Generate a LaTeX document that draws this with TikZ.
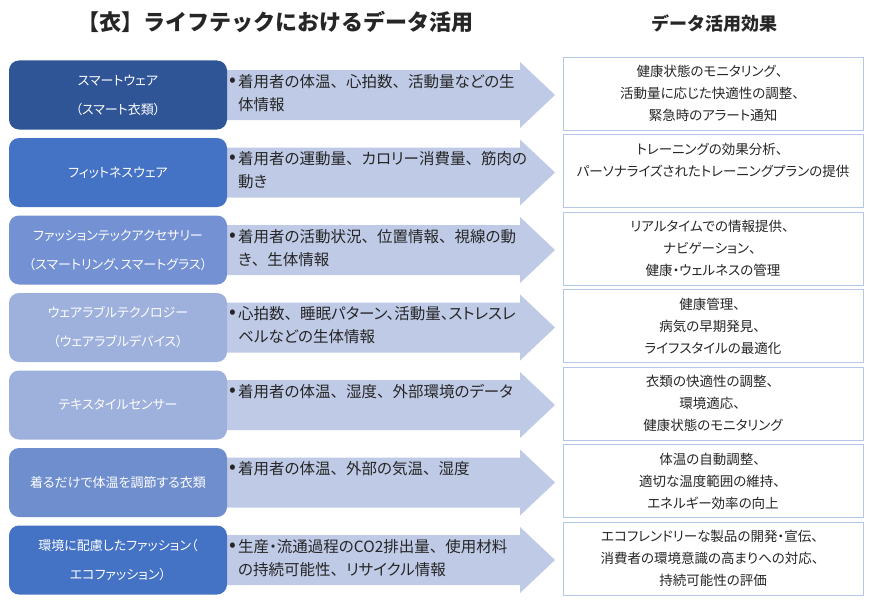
\documentclass[tikz,border=0pt]{standalone}
\usepackage{fontspec}
\newfontfamily\jp{Noto Sans CJK JP}
\newfontfamily\jpp[RawFeature=+palt]{Noto Sans CJK JP}
\newcommand\tn{{\jp 、}}
\definecolor{cA}{HTML}{2F5597}
\definecolor{cB}{HTML}{4472C4}
\definecolor{cC}{HTML}{7391D3}
\definecolor{cD}{HTML}{9EB0DC}
\definecolor{cE}{HTML}{6F8ECE}
\definecolor{arrowcol}{HTML}{BFCAE6}
\definecolor{rline}{HTML}{B4C7E7}
\definecolor{txt}{HTML}{262626}
\tikzset{
  lbox/.style={rounded corners=10pt, minimum width=218pt, minimum height=69pt, inner sep=0pt,
    text=white, align=center, font=\jpp\fontsize{13}{29}\selectfont},
  rbox/.style={draw=rline, line width=0.9pt, fill=white, minimum width=300pt, minimum height=73pt,
    inner sep=0pt, align=center, text=txt, font=\jpp\fontsize{13.5}{22}\selectfont},
  atext/.style={anchor=north west, inner sep=0pt, align=left, text=txt, font=\jpp\fontsize{15.5}{23}\selectfont},
  bul/.style={inner sep=0pt, text=txt, font=\jp\fontsize{20}{22}\selectfont},
  ttl/.style={inner sep=0pt, text=txt, font=\jp\bfseries}
}
\newcommand\mkrow[5]{%
  \pgfmathsetmacro\cy{95+77.5*(#1-1)}%
  \fill[arrowcol] (227,\cy-25) -- (520,\cy-25) -- (520,\cy-33) -- (555,\cy) -- (520,\cy+33) -- (520,\cy+25) -- (227,\cy+25) -- cycle;
  \node[lbox, fill=#2] (L#1) at (118,\cy) {#3};
  \node[bul] (B#1) at (233,\cy-13) {•};
  \node[atext] (A#1) at (238,\cy-21) {#4};
  \node[rbox] (R#1) at (713,\cy-1.5) {#5};
}
\begin{document}
\begin{tikzpicture}[x=1pt,y=-1pt]
\fill[white] (0,0) rectangle (872,602);
\useasboundingbox (0,0) rectangle (872,602);
\node[ttl, font=\jp\bfseries\fontsize{22}{26}\selectfont] (T1) at (275,22) {【衣】ライフテックにおけるデータ活用};
\node[ttl, font=\jp\bfseries\fontsize{18}{22}\selectfont] (T2) at (714,24) {データ活用効果};
\mkrow{1}{cA}{スマートウェア\\（スマート衣類）}{着用者の体温\tn 心拍数\tn 活動量などの生\\体情報}{健康状態のモニタリング\tn\\活動量に応じた快適性の調整\tn\\緊急時のアラート通知}
\mkrow{2}{cB}{フィットネスウェア}{着用者の運動量\tn カロリー消費量\tn 筋肉の\\動き}{トレーニングの効果分析\tn\\パーソナライズされたトレーニングプランの提供\\\mbox{}}
\mkrow{3}{cC}{ファッションテックアクセサリー\\（スマートリング、スマートグラス）}{着用者の活動状況\tn 位置情報\tn 視線の動\\き\tn 生体情報}{リアルタイムでの情報提供\tn\\ナビゲーション\tn\\健康・ウェルネスの管理}
\mkrow{4}{cD}{ウェアラブルテクノロジー\\（ウェアラブルデバイス）}{心拍数\tn 睡眠パターン、活動量、ストレスレ\\ベルなどの生体情報}{健康管理\tn\\病気の早期発見\tn\\ライフスタイルの最適化}
\mkrow{5}{cD}{テキスタイルセンサー}{着用者の体温\tn 湿度\tn 外部環境のデータ}{衣類の快適性の調整\tn\\環境適応\tn\\健康状態のモニタリング}
\mkrow{6}{cE}{着るだけで体温を調節する衣類}{着用者の体温\tn 外部の気温\tn 湿度}{体温の自動調整\tn\\適切な温度範囲の維持\tn\\エネルギー効率の向上}
\mkrow{7}{cB}{環境に配慮したファッション（\\エコファッション）}{生産・流通過程のCO2排出量\tn 使用材料\\の持続可能性\tn リサイクル情報}{エコフレンドリーな製品の開発・宣伝\tn\\消費者の環境意識の高まりへの対応\tn\\持続可能性の評価}
\end{tikzpicture}
\end{document}
